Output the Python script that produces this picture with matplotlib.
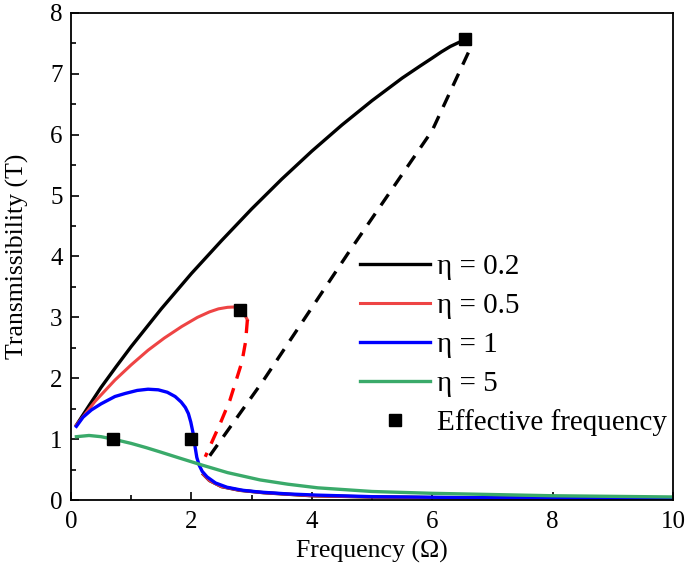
import numpy as np
import matplotlib
matplotlib.use("Agg")
import matplotlib.pyplot as plt
from matplotlib.ticker import MultipleLocator

plt.rcParams['font.family'] = ['Liberation Serif', 'DejaVu Serif']

# eta = 0.2, upper (stable) branch
x02 = [0.09, 0.3, 0.5, 0.75, 1.0, 1.25, 1.5, 2.0, 2.5, 3.0, 3.5, 4.0, 4.5, 5.0, 5.5, 5.8, 6.0, 6.15, 6.3, 6.45, 6.54]
y02 = [1.23, 1.55, 1.85, 2.19, 2.52, 2.83, 3.14, 3.72, 4.26, 4.78, 5.27, 5.73, 6.16, 6.56, 6.93, 7.13, 7.26, 7.36, 7.45, 7.52, 7.55]
# eta = 0.2, unstable branch (dashed)
x02d = [6.6, 6.0, 4.6, 3.2, 2.3]
y02d = [7.35, 6.07, 4.05, 1.97, 0.72]

# eta = 0.5
x05 = [0.09, 0.25, 0.4, 0.73, 1.0, 1.28, 1.55, 1.84, 2.1, 2.3, 2.45, 2.6, 2.7, 2.81, 2.87, 2.93]
y05 = [1.23, 1.43, 1.62, 1.97, 2.22, 2.46, 2.66, 2.85, 3.0, 3.09, 3.14, 3.165, 3.17, 3.14, 3.07, 2.96]
x05d = [2.93, 2.9, 2.84, 2.64, 2.48, 2.23]
y05d = [2.96, 2.6, 2.27, 1.64, 1.26, 0.71]

# lower branches of eta = 0.2 / 0.5 (hidden under eta = 1)
x_low = [2.2, 2.3, 2.5, 2.8, 3.2, 4.0, 5.0, 6.0, 8.0, 10.0]
y_low = [0.42, 0.32, 0.22, 0.16, 0.12, 0.07, 0.05, 0.04, 0.025, 0.015]

# eta = 1
x1 = [0.09, 0.2, 0.34, 0.5, 0.73, 0.9, 1.1, 1.28, 1.45, 1.6, 1.73, 1.83, 1.9, 1.95, 1.99, 2.03, 2.06, 2.09, 2.13, 2.18, 2.26, 2.4, 2.59, 2.85, 3.14, 3.6, 4.1, 5.0, 6.0, 8.0, 10.0]
y1 = [1.21, 1.36, 1.48, 1.58, 1.7, 1.75, 1.8, 1.82, 1.81, 1.77, 1.7, 1.61, 1.52, 1.42, 1.28, 1.09, 0.88, 0.7, 0.57, 0.47, 0.38, 0.28, 0.21, 0.16, 0.13, 0.1, 0.08, 0.055, 0.045, 0.03, 0.022]

# eta = 5
x5 = [0.09, 0.3, 0.5, 0.7, 1.0, 1.25, 1.48, 1.8, 2.19, 2.6, 3.14, 3.6, 4.1, 5.0, 6.0, 7.0, 8.0, 9.0, 10.0]
y5 = [1.04, 1.06, 1.04, 1.0, 0.93, 0.86, 0.79, 0.69, 0.57, 0.45, 0.33, 0.26, 0.2, 0.14, 0.11, 0.09, 0.07, 0.06, 0.05]

# effective frequency points
xe = [0.7, 2.0, 2.8, 6.55]
ye = [1.0, 1.0, 3.12, 7.57]

fig = plt.figure(figsize=(6.85, 5.74), dpi=100)
ax = fig.add_axes([0.1036, 0.1289, 0.879, 0.8485])

ax.plot(x_low, y_low, color='black', lw=2.4)
ax.plot(x_low, y_low, color='#ee4444', lw=2.2)
l1, = ax.plot(x02, y02, color='black', lw=2.4, label='η = 0.2')
ax.plot(x02d, y02d, color='black', lw=2.4, ls=(0, (4, 3)))
l2, = ax.plot(x05, y05, color='#ee4444', lw=2.2, label='η = 0.5')
ax.plot(x05d, y05d, color='#ff0000', lw=2.4, ls=(0, (4, 3)))
l3, = ax.plot(x1, y1, color='#0000ff', lw=2.4, label='η = 1')
l4, = ax.plot(x5, y5, color='#3aaa6a', lw=2.4, label='η = 5')
l5, = ax.plot(xe, ye, ls='none', marker='s', ms=8, color='black', label='Effective frequency', zorder=5)

ax.set_xlim(0, 10)
ax.set_ylim(0, 8)
ax.xaxis.set_major_locator(MultipleLocator(2))
ax.xaxis.set_minor_locator(MultipleLocator(1))
ax.yaxis.set_major_locator(MultipleLocator(1))
ax.yaxis.set_minor_locator(MultipleLocator(0.5))
ax.tick_params(which='both', direction='in', top=False, right=False, width=1.2, labelsize=18)
ax.tick_params(which='major', length=6)
ax.tick_params(which='minor', length=3.5)
ax.tick_params(axis='x', pad=8)
ax.tick_params(axis='y', pad=6)
for s in ax.spines.values():
    s.set_linewidth(1.3)

ax.set_xlabel('Frequency (Ω)', fontsize=18.5, labelpad=5)
ax.set_ylabel('Transmissibility (T)', fontsize=18.5, labelpad=15)

ax.legend(handles=[l1, l2, l3, l4, l5], loc='upper left', bbox_to_anchor=(0.46, 0.53),
          frameon=False, fontsize=21, handlelength=2.4, handletextpad=0.25, labelspacing=0.43,
          borderaxespad=0)

fig.savefig('out.png', dpi=100)
